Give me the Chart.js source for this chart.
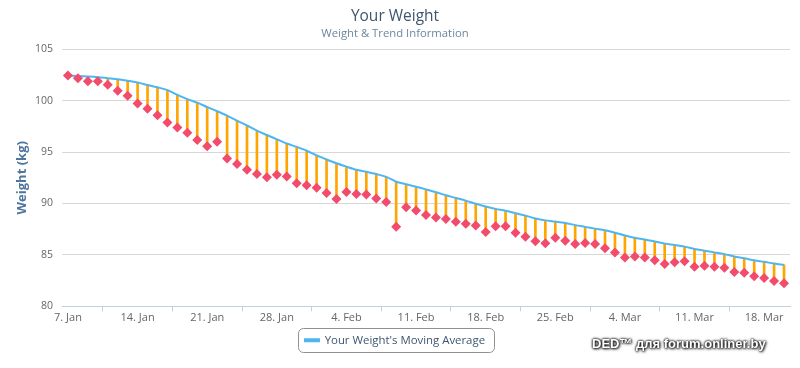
<!DOCTYPE html>
<html>
<head>
<meta charset="utf-8">
<script src="https://cdn.jsdelivr.net/npm/chart.js@4.4.0/dist/chart.umd.min.js"></script>
<style>
    body { margin: 0; background: #fff; }
    #wrap { position: relative; width: 800px; height: 368px; }
    #mark {
        position: absolute; left: 592px; top: 336px;
        font: bold 13px "Liberation Sans", Arial, sans-serif;
        color: #fff;
        text-shadow: 0 0 2px #000, 0 0 3px #000, 1px 1px 3px #333;
    }
</style>
</head>
<body>
<div id="wrap">
    <canvas id="chart" width="800" height="368"></canvas>
    <div id="mark">DED™ для forum.onliner.by</div>
</div>
<script>
// one value per day, starting 7. Jan
const weights = [
    102.44, 102.18, 101.88, 101.88, 101.55, 100.95, 100.46, 99.73, 99.2, 98.57,
    97.88, 97.38, 96.88, 96.16, 95.57, 95.99, 94.38, 93.85, 93.28, 92.86,
    92.56, 92.79, 92.62, 91.96, 91.77, 91.53, 91.03, 90.44, 91.13, 90.93,
    90.87, 90.48, 90.14, 87.73, 89.64, 89.32, 88.89, 88.65, 88.49, 88.22,
    88.03, 87.86, 87.23, 87.8, 87.8, 87.16, 86.77, 86.34, 86.14, 86.67,
    86.37, 86.07, 86.17, 86.07, 85.64, 85.25, 84.75, 84.85, 84.75, 84.48,
    84.11, 84.29, 84.38, 83.86, 83.96, 83.86, 83.76, 83.34, 83.26, 82.94,
    82.77, 82.47, 82.25
];
const trend = [
    102.44, 102.38, 102.34, 102.28, 102.18, 102.08, 101.94, 101.75, 101.52, 101.29,
    101.02, 100.55, 100.15, 99.8, 99.37, 98.97, 98.54, 98.05, 97.58, 97.08,
    96.66, 96.23, 95.83, 95.5, 95.13, 94.67, 94.28, 93.91, 93.58, 93.28,
    93.09, 92.86, 92.59, 92.12, 91.87, 91.63, 91.37, 91.1, 90.8, 90.54,
    90.28, 89.98, 89.71, 89.48, 89.29, 89.05, 88.82, 88.55, 88.36, 88.24,
    88.11, 87.9, 87.73, 87.56, 87.4, 87.16, 86.9, 86.67, 86.51, 86.31,
    86.1, 85.97, 85.81, 85.58, 85.41, 85.25, 85.08, 84.85, 84.68, 84.48,
    84.33, 84.16, 84.03
];
const tickLabels = ['7. Jan', '14. Jan', '21. Jan', '28. Jan', '4. Feb', '11. Feb',
    '18. Feb', '25. Feb', '4. Mar', '11. Mar', '18. Mar'];
const yTicks = [80, 85, 90, 95, 100, 105];

Chart.defaults.font.family = '"Open Sans", sans-serif';

// rounded border round the legend item
const legendBox = {
    id: 'legendBox',
    afterDraw(chart) {
        const box = chart.legend.legendHitBoxes[0];
        if (!box) return;
        const ctx = chart.ctx;
        ctx.save();
        ctx.strokeStyle = '#909090';
        ctx.lineWidth = 1;
        ctx.beginPath();
        ctx.roundRect(Math.round(box.left - 7) + 0.5, Math.round(box.top - 7) + 0.5,
            Math.round(box.width + 16), Math.round(box.height + 13), 5);
        ctx.stroke();
        ctx.restore();
    }
};

new Chart(document.getElementById('chart'), {
    data: {
        datasets: [
            {
                type: 'scatter',
                label: 'Your Weight',
                data: weights.map((w, i) => ({ x: i, y: w })),
                pointStyle: 'rectRot',
                pointRadius: 5,
                pointBackgroundColor: '#f24b6b',
                pointBorderWidth: 0,
                order: 0,
            },
            {
                type: 'line',
                label: "Your Weight's Moving Average",
                data: trend.map((t, i) => ({ x: i, y: t })),
                borderColor: '#4db6f0',
                backgroundColor: '#4db6f0',
                borderWidth: 2,
                pointRadius: 0,
                tension: 0.3,
                order: 1,
            },
            {
                type: 'bar',
                label: 'Difference',
                data: weights.map((w, i) => ({ x: i, y: [w, trend[i]] })),
                backgroundColor: '#ffa500',
                barThickness: 2,
                grouped: false,
                order: 2,
            },
        ],
    },
    options: {
        responsive: false,
        animation: false,
        layout: { padding: { left: 0, right: 10, top: 0, bottom: 12 } },
        plugins: {
            title: {
                display: true,
                text: 'Your Weight',
                color: '#3e576f',
                font: { size: 15.5, weight: 'normal' },
                padding: { top: 7, bottom: 1 },
            },
            subtitle: {
                display: true,
                text: 'Weight & Trend Information',
                color: '#6d869f',
                font: { size: 11.3 },
                padding: { top: 0, bottom: 9 },
            },
            legend: {
                position: 'bottom',
                labels: {
                    filter: item => item.datasetIndex === 1,
                    color: '#3e576f',
                    font: { size: 11.4 },
                    boxWidth: 14,
                    boxHeight: 2,
                    padding: 10,
                },
            },
            tooltip: { enabled: false },
        },
        scales: {
            x: {
                type: 'linear',
                offset: false,
                min: -0.6,
                max: 72.6,
                afterBuildTicks: scale => {
                    scale.ticks = tickLabels.map((t, i) => ({ value: i * 7 }));
                },
                ticks: {
                    callback: (v, i) => tickLabels[i],
                    color: '#666',
                    font: { size: 11 },
                    padding: 0,
                    maxRotation: 0,
                    autoSkip: false,
                },
                grid: {
                    drawOnChartArea: false,
                    drawTicks: true,
                    tickLength: 5,
                    color: '#c0d0e0',
                },
                border: { color: '#c0d0e0' },
            },
            y: {
                min: 80,
                max: 105,
                afterBuildTicks: scale => {
                    scale.ticks = yTicks.map(v => ({ value: v }));
                },
                afterFit: scale => { scale.width = 62; },
                ticks: {
                    color: '#666',
                    font: { size: 10.5 },
                    padding: 9,
                },
                grid: { color: '#d8d8d8', drawTicks: false },
                border: { display: false },
                title: {
                    display: true,
                    text: 'Weight (kg)',
                    color: '#4d759e',
                    font: { size: 13, weight: 'bold' },
                    padding: { top: 14, bottom: 0 },
                },
            },
        },
    },
    plugins: [legendBox],
});
</script>
</body>
</html>
